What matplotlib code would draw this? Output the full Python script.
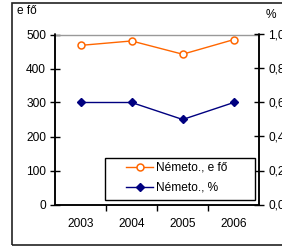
import matplotlib.pyplot as plt
from matplotlib.patches import Rectangle
from matplotlib.ticker import FixedLocator

plt.rcParams['font.family'] = ['Liberation Sans', 'DejaVu Sans']

years = ['2003', '2004', '2005', '2006']
fo = [468, 481, 442, 485]
pct = [0.6, 0.6, 0.5, 0.6]
left_ticks = [0, 100, 200, 300, 400, 500]
right_ticks = [0.0, 0.2, 0.4, 0.6, 0.8, 1.0]

W, H = 282, 246
fs = 8.6

fig = plt.figure(figsize=(W / 100, H / 100), dpi=100)
fig.patches.append(Rectangle((12 / W, 1 - 245 / H), 1.0, 242 / H,
                             transform=fig.transFigure, fill=False,
                             edgecolor='#222222', linewidth=1.2))

ax = fig.add_axes([55 / W, 1 - 204.5 / H, 204.3 / W, 170 / H])
ax2 = ax.twinx()

x = list(range(len(years)))
l1, = ax.plot(x, fo, color='#FF6600', lw=1, marker='o', ms=5,
              mfc='white', mec='#FF6600', mew=1.1, label='Németo., e fő')
l2, = ax2.plot(x, pct, color='#000080', lw=1, marker='D', ms=4.5,
               mfc='#000080', mec='#000080', label='Németo., %')

ax.set_xlim(-0.5, 3.5)
ax.set_ylim(0, 500)
ax2.set_ylim(0, 1)
ax.axhline(500, color='#999999', lw=1, clip_on=False)

ax.set_xticks(x)
ax.set_xticklabels(years, fontsize=fs)
ax.tick_params(axis='x', length=0, pad=10)
ax.xaxis.set_minor_locator(FixedLocator([0.5, 1.5, 2.5]))
ax.tick_params(axis='x', which='minor', length=4, direction='out', width=1)

ax.set_yticks(left_ticks)
ax.set_yticklabels([str(v) for v in left_ticks], fontsize=fs)
ax.tick_params(axis='y', direction='inout', length=7, width=1, pad=3)
ax2.set_yticks(right_ticks)
ax2.set_yticklabels([f'{v:.1f}'.replace('.', ',') for v in right_ticks], fontsize=fs)
ax2.tick_params(axis='y', direction='inout', length=7, width=1, pad=3)

for a in (ax, ax2):
    a.spines['top'].set_visible(False)
    for s in ('left', 'right', 'bottom'):
        a.spines[s].set_linewidth(1.1)

fig.text(17 / W, 1 - 11 / H, 'e fő', fontsize=fs, va='center', ha='left')
fig.text(266 / W, 1 - 15 / H, '%', fontsize=fs, va='center', ha='left')

# legend box drawn separately, Excel style with wide padding
fig.patches.append(Rectangle((105 / W, 1 - 200 / H), 150 / W, 42 / H,
                             transform=fig.transFigure, fill=True,
                             facecolor='white', edgecolor='black',
                             linewidth=1, zorder=5))
leg = fig.legend([l1, l2], ['Németo., e fő', 'Németo., %'], loc='upper left',
                 bbox_to_anchor=(126 / W, 1 - 162 / H),
                 fontsize=fs, frameon=False, handlelength=2.3,
                 handletextpad=0.2, borderpad=0, labelspacing=0.65,
                 borderaxespad=0)
leg.set_zorder(6)

fig.savefig('out.png', dpi=100)
